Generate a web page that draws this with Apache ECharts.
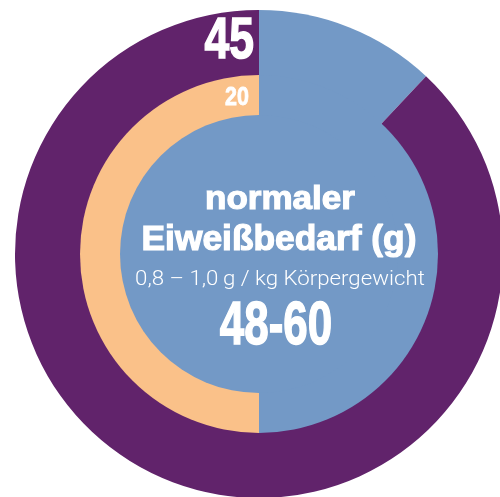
<!DOCTYPE html>
<html>
<head>
<meta charset="utf-8">
<script src="https://cdn.jsdelivr.net/npm/echarts@6/dist/echarts.min.js"></script>
<style>
html,body{margin:0;padding:0;background:#fff;}
#chart{width:500px;height:497px;}
</style>
</head>
<body>
<div id="chart"></div>
<script>
// Data
const outerNames = ['Wedge', 'Gesamt'];
const outerValues = [12, 88];
const innerNames = ['Normal', 'Reduziert'];
const innerValues = [50, 50];
const outerLabel = '45';
const innerLabel = '20';
const titleLines = ['normaler', 'Eiweißbedarf (g)'];
const subLine = '0,8 – 1,0\u2009g / kg Körpergewicht';
const rangeLabel = '48-60';

const PURPLE = '#61236b';
const BLUE = '#7399c6';
const ORANGE = '#fac189';
const cx = 259, cy = 254;
const boldFont = '"Liberation Sans", Arial, sans-serif';

const chart = echarts.init(document.getElementById('chart'));
const base = {
  type: 'pie', center: [cx, cy], startAngle: 90, clockwise: true,
  label: { show: false }, labelLine: { show: false }, silent: true,
  emphasis: { disabled: true }, animation: false
};
function txt(x, y, text, font, sx, align, lw) {
  const style = { text: text, fill: '#fff', font: font, align: align || 'center', verticalAlign: 'middle' };
  if (lw) { style.stroke = '#fff'; style.lineWidth = lw; }
  return { type: 'text', x: x, y: y, z: 100, silent: true, scaleX: sx, style: style };
}
chart.setOption({
  animation: false,
  series: [
    Object.assign({}, base, {
      radius: [0, 244],
      data: outerNames.map((n, i) => ({ name: n, value: outerValues[i],
        itemStyle: { color: [BLUE, PURPLE][i], borderWidth: 0 } }))
    }),
    Object.assign({}, base, {
      radius: [0, 179],
      data: innerNames.map((n, i) => ({ name: n, value: innerValues[i],
        itemStyle: { color: [BLUE, ORANGE][i], borderWidth: 0 } }))
    }),
    Object.assign({}, base, {
      radius: [0, 139],
      data: [{ name: 'Kern', value: 1, itemStyle: { color: BLUE, borderWidth: 0 } }]
    })
  ],
  graphic: { elements: [
    txt(254, 42.5, outerLabel, 'bold 57px ' + boldFont, 0.78, 'right', 1.5),
    txt(249, 98, innerLabel, 'bold 25px ' + boldFont, 0.86, 'right', 0.8),
    txt(280, 200, titleLines[0], 'bold 34px ' + boldFont, 1.03, 'center', 1.2),
    txt(279, 240.5, titleLines[1], 'bold 35px ' + boldFont, 1.01, 'center', 1.2),
    txt(280, 279.5, subLine, '300 21px Roboto, "Liberation Sans", sans-serif', 1.06),
    txt(276, 327, rangeLabel, 'bold 61px ' + boldFont, 0.72, 'center', 1.5)
  ] }
});
</script>
</body>
</html>
